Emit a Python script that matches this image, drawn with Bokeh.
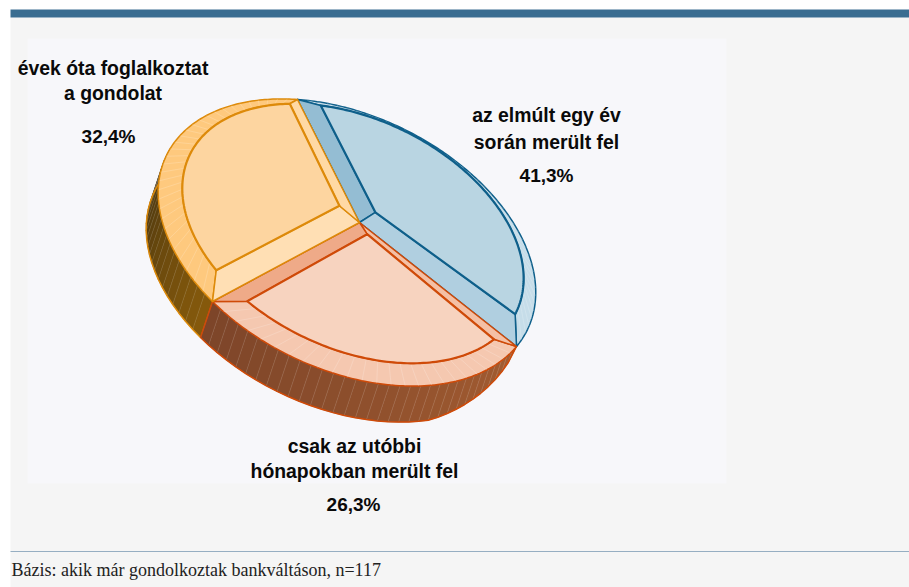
import numpy as np
from bokeh.embed import file_html
from bokeh.models import Range1d
from bokeh.plotting import figure
from bokeh.resources import INLINE
from bokeh.core.properties import value

# Survey answers: share of respondents per answer, clockwise from the top.
categories = [
    ["az elmúlt egy év", "során merült fel"],
    ["csak az utóbbi", "hónapokban merült fel"],
    ["évek óta foglalkoztat", "a gondolat"],
]
shares = [41.3, 26.3, 32.4]
footnote = "Bázis: akik már gondolkoztak bankváltáson, n=117"

W, H = 909, 587

# Perspective of the disc: where the hub and the three slice boundaries land.
HUB = (359, 222)
RIM_ANCHORS = [(297, 99), (516, 346), (212, 301)]

boundaries = np.concatenate([[0.0], np.cumsum(shares)]) * 3.6


def solve_projection():
    src = [(0.0, 0.0)] + [(np.cos(np.radians(a)), np.sin(np.radians(a))) for a in boundaries[:3]]
    dst = [HUB] + RIM_ANCHORS
    rows, rhs = [], []
    for (x, y), (u, v) in zip(src, dst):
        rows.append([x, y, 1, 0, 0, 0, -u * x, -u * y])
        rhs.append(u)
        rows.append([0, 0, 0, x, y, 1, -v * x, -v * y])
        rhs.append(v)
    return np.append(np.linalg.solve(np.array(rows), np.array(rhs)), 1).reshape(3, 3)


PROJ = solve_projection()


def disc(r, deg):
    a = np.radians(np.asarray(deg, float))
    q = PROJ @ np.array([r * np.cos(a), r * np.sin(a), np.ones_like(a)])
    return np.array([q[0] / q[2], q[1] / q[2]])


def arc(d0, d1, step=1.0):
    n = max(2, int(abs(d1 - d0) / step) + 1)
    return np.linspace(d0, d1, n)


# The raised plateau is a smaller copy of the rim, shifted up and to the right.
OUT_C = np.array([346.5, 242.0])
IN_C = np.array([352.5, 233.0])
IN_S = 0.904


def raised(pts):
    return IN_C[:, None] + IN_S * (pts - OUT_C[:, None])


WALL = np.array([-12.0, 36.0])

# Styling per slice, same order as the data.
styles = [
    dict(line="#0e5f8a", plateau="#b9d5e2", band="#c6dde9", first="#94bdd3", last="#b0cfe0",
         inset=(5.0, 7.8), hub=0.085),
    dict(line="#cf4a08", plateau="#f7d3bf", band="#f5c8b0", first="#f4c0a5", last="#efaa88",
         inset=(7.8, 6.0), hub=0.15),
    dict(line="#dd8a0a", plateau="#fdd5a0", band="#fec97e", first="#ffdfb4", last="#ffd9a4",
         inset=(6.6, 7.5), hub=0.15),
]

p = figure(width=W, height=H, x_range=Range1d(0, W), y_range=Range1d(H, 0),
           output_backend="svg", toolbar_location=None, min_border=0,
           background_fill_color="white", border_fill_color="white")
p.axis.visible = False
p.grid.visible = False
p.outline_line_color = None

# Page furniture
p.quad(left=10, right=W, top=17, bottom=H, fill_color="#f5f5f5", line_color=None)
p.quad(left=10, right=W, top=9, bottom=17, fill_color="#3a6d91", line_color=None)
p.quad(left=27, right=726, top=38, bottom=483, fill_color="#f7f7fa", line_color=None)
p.segment(x0=10, x1=W, y0=551, y1=551, line_color="#96aec2", line_width=1)


def mix(c0, c1, f):
    a = [int(c0[i:i + 2], 16) for i in (1, 3, 5)]
    b = [int(c1[i:i + 2], 16) for i in (1, 3, 5)]
    return "#%02x%02x%02x" % tuple(int(round(x + (y - x) * f)) for x, y in zip(a, b))


def draw_wall(d0, d1, c0, c1, line, taper_from=None):
    ts = arc(d0, d1, 2.8)
    top = disc(1.0, ts)
    fall = np.ones_like(ts)
    if taper_from is not None:
        fall = np.clip((ts - taper_from) / 31.0, 0, 1) ** 0.5
    bot = top + WALL[:, None] * fall
    xs, ys, cols = [], [], []
    for i in range(len(ts) - 1):
        xs.append([top[0, i], top[0, i + 1], bot[0, i + 1], bot[0, i]])
        ys.append([top[1, i], top[1, i + 1], bot[1, i + 1], bot[1, i]])
        cols.append(mix(c0, c1, i / (len(ts) - 2)))
    p.patches(xs, ys, fill_color=cols, line_color=cols, line_width=0.6)
    p.multi_line([[top[0, i], bot[0, i]] for i in range(len(ts))],
                 [[top[1, i], bot[1, i]] for i in range(len(ts))],
                 line_color="#ffffff", line_alpha=0.16, line_width=0.7)
    p.line(bot[0], bot[1], line_color=line, line_width=1.5)


# Side walls: only the slices facing the viewer show one.
b = boundaries
draw_wall(b[2], 302, "#85590c", "#40300f", styles[2]["line"])
draw_wall(b[1], b[2], "#a35c31", "#7d4529", styles[1]["line"], taper_from=b[1])
edge = disc(1.0, [b[2]])
p.line([edge[0, 0], edge[0, 0] + WALL[0]], [edge[1, 0], edge[1, 0] + WALL[1]],
       line_color=styles[1]["line"], line_width=1.5)

# Top faces
for i, st in enumerate(styles):
    d0, d1 = b[i], b[i + 1]
    mid = (d0 + d1) / 2
    i0, i1 = d0 + st["inset"][0], d1 - st["inset"][1]
    hub_in = raised(disc(st["hub"], [mid]))
    outer = disc(1.0, arc(d0, d1))
    inner = raised(disc(1.0, arc(i0, i1)))

    # rim band with its faint facet seams
    p.patch(np.r_[outer[0], inner[0][::-1]], np.r_[outer[1], inner[1][::-1]],
            fill_color=st["band"], line_color=st["line"], line_width=1.5, line_join="round")
    seam_t = arc(i0, i1, 3.2)[1:-1]
    seam_f = (seam_t - i0) / (i1 - i0)
    seam_o = disc(1.0, d0 + seam_f * (d1 - d0))
    seam_i = raised(disc(1.0, seam_t))
    p.multi_line([[seam_o[0, k], seam_i[0, k]] for k in range(len(seam_t))],
                 [[seam_o[1, k], seam_i[1, k]] for k in range(len(seam_t))],
                 line_color="#ffffff", line_alpha=0.3, line_width=0.6)

    # bevels along both radial edges
    hx, hy = HUB
    o0, o1 = outer[:, 0], outer[:, -1]
    p.patch([hx, o0[0], inner[0, 0], hub_in[0, 0]], [hy, o0[1], inner[1, 0], hub_in[1, 0]],
            fill_color=st["first"], line_color=st["line"], line_width=1.5, line_join="round")
    p.patch([hx, hub_in[0, 0], inner[0, -1], o1[0]], [hy, hub_in[1, 0], inner[1, -1], o1[1]],
            fill_color=st["last"], line_color=st["line"], line_width=1.5, line_join="round")

    # plateau
    p.patch(np.r_[hub_in[0], inner[0]], np.r_[hub_in[1], inner[1]],
            fill_color=st["plateau"], line_color=st["line"], line_width=2.2, line_join="round")

# Labels
font = value("Liberation Sans")
label_pos = [(546, [114, 141], 175), (354, [445, 470], 504), (112.5, [67, 92], 136)]
pct_x = [546, 353, 108]
for lines, share, (lx, ly, py), px in zip(categories, shares, label_pos, pct_x):
    p.text([lx] * len(lines), ly, text=lines, text_font=font, text_font_style="bold",
           text_font_size="19.4px", text_align="center", text_baseline="middle", text_color="#0a0a0a")
    p.text([px], [py], text=[f"{share:.1f}%".replace(".", ",")], text_font=font, text_font_style="bold",
           text_font_size="19px", text_align="center", text_baseline="middle", text_color="#0a0a0a")

p.text([11], [569], text=[footnote], text_font=value("Liberation Serif"), text_font_size="18px",
       text_align="left", text_baseline="middle", text_color="#222222")

open("out.html", "w").write(file_html(p, INLINE))
